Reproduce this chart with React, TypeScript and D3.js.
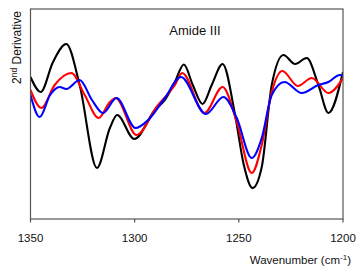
import React from "react";
import * as d3 from "d3";

// wavenumber (cm-1) / second derivative (arb. units)
const blackWave = [1350, 1345.1, 1339.2, 1332.8, 1326.4, 1318.1, 1311.9, 1308.4, 1300.2, 1290.3, 1285.5, 1280.7, 1276.4, 1272.1, 1267.4, 1263.0, 1257.8, 1251.8, 1247.6, 1243.4, 1239.0, 1234.2, 1228.6, 1223.0, 1217.4, 1211.8, 1207.0, 1200];
const blackVal = [0.02, -0.13, 0.17, 0.35, -0.06, -0.89, -0.49, -0.36, -0.6, -0.31, -0.21, -0.03, 0.145, -0.06, -0.25, -0.06, 0.15, -0.36, -0.86, -1.09, -0.88, -0.06, 0.24, 0.15, 0.21, -0.06, -0.34, 0.07];

const redWave = [1350, 1344.8, 1338.4, 1330.4, 1324.0, 1317.3, 1311.9, 1309.1, 1299.1, 1289.5, 1280.7, 1277.2, 1266.5, 1257.8, 1251.0, 1243.8, 1239.0, 1234.2, 1229.1, 1221.7, 1215.0, 1207.0, 1200];
const redVal = [-0.11, -0.29, -0.06, 0.06, -0.16, -0.39, -0.23, -0.19, -0.56, -0.28, -0.06, 0.06, -0.34, -0.08, -0.43, -0.94, -0.66, -0.13, 0.08, -0.07, 0.01, -0.14, 0.01];

const blueWave = [1350, 1345.6, 1340.6, 1336.0, 1332.8, 1326.4, 1320.5, 1315.2, 1308.7, 1299.6, 1293.5, 1285.5, 1277.8, 1265.8, 1257.4, 1251.0, 1243.8, 1239.0, 1234.2, 1228.1, 1219.8, 1211.8, 1207.0, 1201.6, 1200];
const blueVal = [-0.16, -0.38, -0.16, -0.08, -0.1, -0.01, -0.21, -0.34, -0.19, -0.49, -0.41, -0.19, 0.02, -0.35, -0.18, -0.39, -0.79, -0.59, -0.16, -0.03, -0.14, -0.06, -0.03, 0.04, 0.03];

const xTicks = [1350, 1300, 1250, 1200];

const series = [
  { name: "black", color: "#000000", wave: blackWave, val: blackVal },
  { name: "red", color: "#ff0000", wave: redWave, val: redVal },
  { name: "blue", color: "#0000ff", wave: blueWave, val: blueVal },
];

const width = 357;
const height = 267;
const margin = { top: 9, right: 14, bottom: 48, left: 30.5 };
const font = "Liberation Sans, Arial, sans-serif";

export default function App() {
  const x = d3.scaleLinear().domain([1350, 1200]).range([margin.left, width - margin.right]);
  const y = d3.scaleLinear().domain([-1.4, 0.7]).range([height - margin.bottom, margin.top]);

  const line = d3
    .line<[number, number]>()
    .x((d) => x(d[0]))
    .y((d) => y(d[1]))
    .curve(d3.curveMonotoneX);

  const x0 = margin.left;
  const x1 = width - margin.right;
  const y0 = height - margin.bottom;
  const y1 = margin.top;

  return (
    <div style={{ position: "fixed", left: 0, top: 0 }}>
      <svg width={width} height={height} style={{ display: "block", background: "#fff" }}>
        <defs>
          <clipPath id="plot-clip">
            <rect x={x0} y={y1} width={x1 - x0} height={y0 - y1} />
          </clipPath>
        </defs>

        <g clipPath="url(#plot-clip)">
          {series.map((s) => (
            <path
              key={s.name}
              d={line(s.wave.map((w, i) => [w, s.val[i]] as [number, number])) || ""}
              fill="none"
              stroke={s.color}
              strokeWidth={2.1}
              strokeLinejoin="round"
            />
          ))}
        </g>

        {/* frame */}
        <rect x={x0} y={y1} width={x1 - x0} height={y0 - y1} fill="none" stroke="#555" strokeWidth={1.2} />

        {/* x ticks */}
        {xTicks.map((t) => (
          <g key={t} transform={`translate(${x(t)},${y0})`}>
            <line y1={0} y2={3.5} stroke="#555" strokeWidth={1.2} />
            <text y={22.5} textAnchor="middle" fontFamily={font} fontSize={11.5} fill="#111">
              {t}
            </text>
          </g>
        ))}

        <text x={351} y={264} textAnchor="end" fontFamily={font} fontSize={11.5} fill="#111">
          Wavenumber (cm
          <tspan dy={-4} fontSize={8}>-1</tspan>
          <tspan dy={4}>)</tspan>
        </text>

        <text
          transform={`translate(20.5,${47.5}) rotate(-90)`}
          textAnchor="middle"
          fontFamily={font}
          fontSize={12}
          fill="#111"
        >
          2
          <tspan dy={-4} fontSize={8.5}>nd</tspan>
          <tspan dy={4}> Derivative</tspan>
        </text>

        <text x={195} y={35} textAnchor="middle" fontFamily={font} fontSize={13} fill="#111">
          Amide III
        </text>
      </svg>
    </div>
  );
}
